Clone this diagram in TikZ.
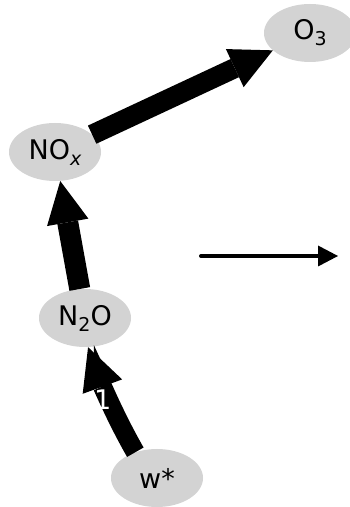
\documentclass[tikz,border=0pt]{standalone}
\usepackage{fontspec}
\setmainfont{DejaVu Sans}
\usetikzlibrary{arrows.meta,shapes.geometric}
\definecolor{nodegray}{RGB}{211,211,211}
\newcommand{\sbs}[1]{\raisebox{-6pt}{\fontsize{19}{20}\selectfont #1}}
\begin{document}
\begin{tikzpicture}[x=1pt,y=1pt,
  species/.style={ellipse, fill=nodegray, minimum width=92pt, minimum height=58pt, inner sep=0pt, font=\fontsize{27}{32}\selectfont},
  flux/.style={line width=#1, -{Triangle[length=42pt,width=42pt,line width=0pt]}},
  fluxlabel/.style={text=white, font=\fontsize{27}{32}\selectfont, inner sep=0pt},
  plainarrow/.style={line width=4pt, line cap=round, -{Triangle[length=20pt,width=21pt,line width=0pt]}}
]
\clip (0,0) rectangle (350,507);
\node[species] (o3) at (310,474) {O\sbs{3}};
\node[species] (nox) at (55,355) {NO\sbs{\itshape x}};
\node[species] (n2o) at (85,189) {N\sbs{2}O};
\node[species] (ws) at (157,29) {w*};
\draw[flux=20pt] (nox) -- (o3);
\draw[flux=21pt] (n2o) -- (nox);
\draw[flux=19pt] (ws.130) .. controls +(120:40) and +(290:36) .. (n2o.276)
  node[fluxlabel, pos=0.5, xshift=-6pt] (lbl) {1};
\coordinate (h1) at (201,251);
\coordinate (h2) at (338,251);
\draw[plainarrow] (h1) -- (h2);
\end{tikzpicture}
\end{document}
